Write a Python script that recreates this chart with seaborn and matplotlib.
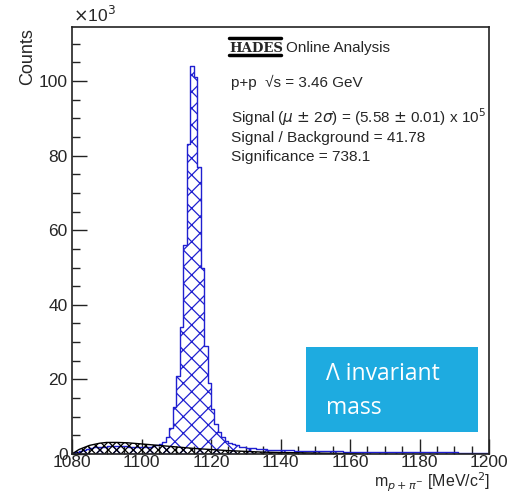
import numpy as np
import pandas as pd
import seaborn as sns
import matplotlib
matplotlib.use("Agg")
import matplotlib.pyplot as plt
from matplotlib.patches import Rectangle
from matplotlib.lines import Line2D
from matplotlib.ticker import MultipleLocator

# ---- data (counts in units of 10^3 per 1 MeV bin) ----
x_min, x_max, bin_width = 1080, 1200, 1
counts = [
    0.3, 0.6, 0.9, 1.2, 1.4, 1.6, 1.8, 1.9, 2.0, 2.0,
    2.1, 2.1, 2.1, 2.1, 2.1, 2.1, 2.0, 2.0, 2.0, 2.0,
    2.0, 2.0, 2.0, 2.1, 2.3, 2.6, 3.2, 4.5, 7.0, 12.5,
    21, 34, 56, 83, 104, 101, 77, 50, 29, 19,
    12, 8, 6, 4.5, 3.6, 3.0, 2.6, 2.3, 2.0, 1.8,
    1.7, 1.6, 1.5, 1.4, 1.3, 1.25, 1.2, 1.15, 1.1, 1.05,
    1.0, 1.0, 0.95, 0.95, 0.9, 0.9, 0.85, 0.85, 0.8, 0.8,
    0.8, 0.75, 0.75, 0.75, 0.7, 0.7, 0.7, 0.7, 0.65, 0.65,
    0.65, 0.65, 0.6, 0.6, 0.6, 0.6, 0.6, 0.6, 0.55, 0.55,
    0.55, 0.55, 0.55, 0.5, 0.5, 0.5, 0.5, 0.5, 0.5, 0.5,
    0.5, 0.5, 0.45, 0.45, 0.45, 0.45, 0.45, 0.45, 0.45, 0.45,
    0.45, 0.4, 0.4, 0.4, 0.4, 0.4, 0.4, 0.4, 0.4, 0.4,
]
bkg_mass = [1080, 1082, 1085, 1088, 1090, 1093, 1096, 1100, 1105, 1110,
            1115, 1120, 1125, 1130, 1135, 1140, 1150, 1160, 1163]
bkg_counts = [0.0, 1.2, 2.3, 2.9, 3.1, 3.1, 3.0, 2.7, 2.3, 1.9,
              1.5, 1.2, 0.9, 0.7, 0.5, 0.4, 0.25, 0.1, 0.0]

x_ticks = [1080, 1100, 1120, 1140, 1160, 1180, 1200]
y_ticks = [0, 20, 40, 60, 80, 100]

centers = np.arange(x_min, x_max, bin_width) + bin_width / 2
df = pd.DataFrame({"mass": centers, "counts": counts})

sns.set_theme(style="white")
plt.rcParams["font.family"] = ["Liberation Sans", "DejaVu Sans"]
plt.rcParams["hatch.linewidth"] = 0.9

fig = plt.figure(figsize=(5.11, 4.93), dpi=100)
ax = fig.add_axes([72 / 511, 1 - 454 / 493, (489 - 72) / 511, (454 - 27) / 493])

blue = "#2020d0"
sns.histplot(data=df, x="mass", weights="counts", binwidth=bin_width,
             binrange=(x_min, x_max), element="step", fill=True, ax=ax,
             color=blue, linewidth=1.0)
for coll in ax.collections:
    coll.set_facecolor("none")
    coll.set_edgecolor(blue)
    coll.set_hatch("xx")
    coll.set_linewidth(1.0)
    coll.set_alpha(None)

# background fit (black hatched)
ax.fill_between(bkg_mass, 0, bkg_counts, facecolor="none", edgecolor="black",
                hatch="xxxx", linewidth=0)
sns.lineplot(x=bkg_mass, y=bkg_counts, ax=ax, color="black", linewidth=1.0)

ax.set_xlim(x_min, x_max)
ax.set_ylim(0, 114.5)
ax.set_xticks(x_ticks)
ax.set_yticks(y_ticks)
ax.xaxis.set_minor_locator(MultipleLocator(5))
ax.yaxis.set_minor_locator(MultipleLocator(5))
ax.tick_params(axis="both", which="major", direction="in", length=11, width=1,
               labelsize=12.5, color="#222222", bottom=True, left=True)
ax.tick_params(axis="both", which="minor", direction="in", length=6, width=1,
               color="#222222", bottom=True, left=True)
ax.tick_params(axis="x", pad=0.5)
ax.tick_params(axis="y", pad=3)
for s in ax.spines.values():
    s.set_color("#222222")
    s.set_linewidth(1.2)
ax.set_xlabel("")
ax.set_ylabel("")

fig.text(28 / 511, 1 - 28 / 493, "Counts", rotation=90, ha="center", va="top",
         fontsize=13)
fig.text(73 / 511, 1 - 22 / 493, r"$\times$10$^{3}$", ha="left", va="baseline",
         fontsize=12.5)
fig.text(490 / 511, 1 - 487 / 493, r"m$_{p+\pi^{-}}$ [MeV/c$^{2}$]",
         ha="right", va="baseline", fontsize=11.5)

# HADES logo + text
fig.text(229 / 511, 1 - 52 / 493, "HADES", ha="left", va="baseline",
         fontsize=9.5, fontweight="heavy", family=["DejaVu Serif"])
fig.add_artist(Line2D([229 / 511, 281 / 511], [1 - 38 / 493, 1 - 38 / 493],
                      color="black", linewidth=2.5))
fig.add_artist(Line2D([229 / 511, 281 / 511], [1 - 55 / 493, 1 - 55 / 493],
                      color="black", linewidth=2.5))
fig.text(286 / 511, 1 - 52 / 493, "Online Analysis", ha="left",
         va="baseline", fontsize=11)
fig.text(231 / 511, 1 - 87 / 493, "p+p  √s = 3.46 GeV", ha="left",
         va="baseline", fontsize=11)
fig.text(231 / 511, 1 - 123 / 493,
         r"Signal ($\mu$ $\pm$ 2$\sigma$) = (5.58 $\pm$ 0.01) x 10$^{5}$",
         ha="left", va="baseline", fontsize=11)
fig.text(231 / 511, 1 - 142 / 493, "Signal / Background = 41.78",
         ha="left", va="baseline", fontsize=11.1)
fig.text(231 / 511, 1 - 161 / 493, "Significance = 738.1",
         ha="left", va="baseline", fontsize=11.1)

# annotation box
fig.add_artist(Rectangle((306 / 511, 1 - 432 / 493), 172 / 511, 85 / 493,
                         facecolor="#1eabe0", edgecolor="none", zorder=5))
fig.text(326 / 511, 1 - 380 / 493, "Λ invariant", ha="left", va="baseline",
         fontsize=16.5, color="white", family=["Open Sans", "DejaVu Sans"],
         zorder=6)
fig.text(326 / 511, 1 - 414 / 493, "mass", ha="left", va="baseline",
         fontsize=16.5, color="white", family=["Open Sans", "DejaVu Sans"],
         zorder=6)

fig.savefig("out.png", dpi=100)
